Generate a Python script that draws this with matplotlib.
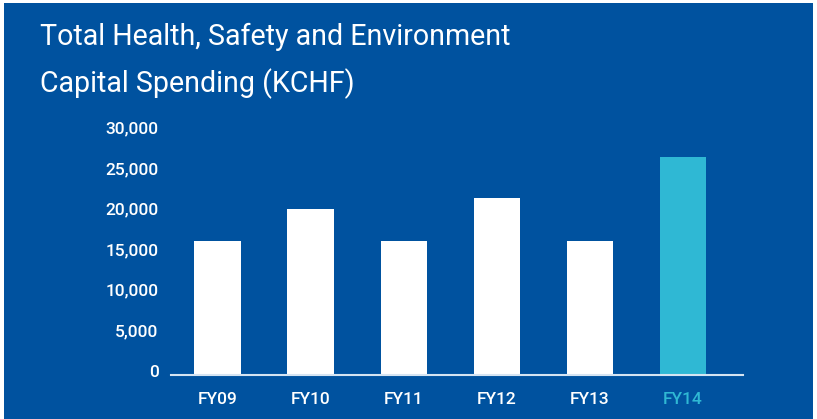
import matplotlib
matplotlib.use('Agg')
import matplotlib.pyplot as plt
import matplotlib.transforms as mtransforms
from matplotlib.patches import Rectangle
from matplotlib.ticker import FuncFormatter

# values (KCHF)
years = ['FY09', 'FY10', 'FY11', 'FY12', 'FY13', 'FY14']
spending = [16500, 20500, 16500, 21800, 16500, 26900]
yticks = [0, 5000, 10000, 15000, 20000, 25000, 30000]
title_lines = ['Total Health, Safety and Environment', 'Capital Spending (KCHF)']

BG = '#00529F'
CYAN = '#2FB8D4'
FONT = 'Roboto'

W, H = 817, 419
fig = plt.figure(figsize=(W / 100, H / 100), dpi=100, facecolor=BG)

# thin white edge on top/left/right
for rect in [(0, 0, 4, H), (W - 4, 0, 4, H), (0, H - 3, W, 3)]:
    fig.patches.append(Rectangle((rect[0] / W, rect[1] / H), rect[2] / W, rect[3] / H,
                                 transform=fig.transFigure, facecolor='white',
                                 edgecolor='none'))

# title, two lines; shrink the font so line one spans about 470 px
t1 = fig.text(40 / W, 1 - 45 / H, title_lines[0], color='white', fontsize=24,
              family=FONT, ha='left', va='baseline')
fig.canvas.draw()
w1 = t1.get_window_extent().width
size = 24 * 470 / w1
t1.set_fontsize(size)
fig.text(40 / W, 1 - 92 / H, title_lines[1], color='white', fontsize=size,
         family=FONT, ha='left', va='baseline')

ax = fig.add_axes([171 / W, 44 / H, (743 - 171) / W, (375 - 132) / H])
ax.set_facecolor('none')

colors = ['white'] * (len(years) - 1) + [CYAN]
x = list(range(len(years)))
ax.bar(x, spending, width=0.495, color=colors, zorder=2)

ax.set_xlim(-0.5, 5.65)
ax.set_ylim(0, 30000)
ax.set_yticks(yticks)
ax.yaxis.set_major_formatter(FuncFormatter(lambda v, p: f'{int(v):,}'))
ax.set_xticks(x)
ax.set_xticklabels(years)

for s in ['top', 'right', 'left']:
    ax.spines[s].set_visible(False)
ax.spines['bottom'].set_color('#D5E4F2')
ax.spines['bottom'].set_linewidth(1.5)
ax.spines['bottom'].set_zorder(3)

ax.tick_params(axis='y', length=0, pad=9, labelcolor='white', labelsize=12.5)
ax.tick_params(axis='x', length=0, pad=12, labelcolor='white', labelsize=12.5)
up = mtransforms.ScaledTranslation(0, 3 / 72, fig.dpi_scale_trans)
for lab in ax.get_yticklabels():
    lab.set_family(FONT)
    lab.set_weight('medium')
    lab.set_transform(lab.get_transform() + up)
for lab in ax.get_xticklabels():
    lab.set_family(FONT)
    lab.set_weight('medium')
ax.get_xticklabels()[-1].set_color(CYAN)

fig.savefig('out.png', dpi=100, facecolor=fig.get_facecolor())
